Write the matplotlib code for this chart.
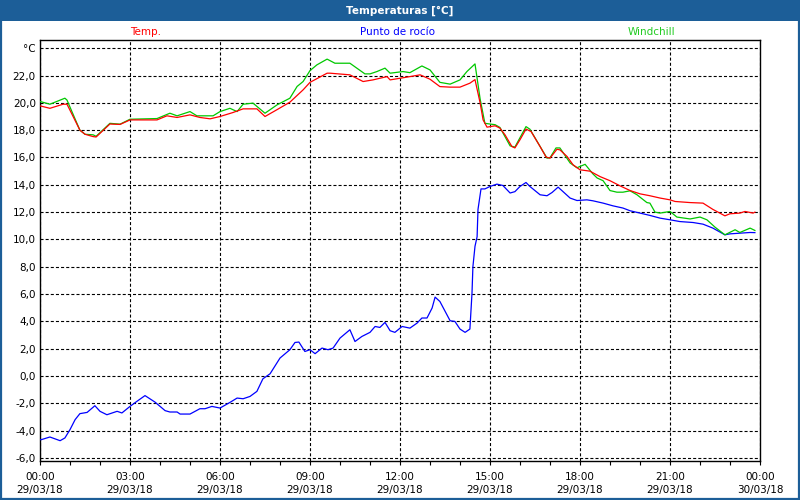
import matplotlib
matplotlib.use("Agg")
import matplotlib.pyplot as plt
from matplotlib.patches import Rectangle

# hours after 29/03/18 00:00
temp_h = [0.0, 0.33, 0.77, 0.9, 1.33, 1.5, 1.77, 1.87, 2.33, 2.67, 3.0, 3.9, 4.23, 4.57,
          5.0, 5.33, 5.67, 6.0, 6.43, 6.77, 7.23, 7.5, 7.9, 8.33, 8.77, 9.0, 9.57, 9.67,
          10.33, 10.77, 11.1, 11.33, 11.57, 11.67, 12.0, 12.33, 12.67, 13.0, 13.33, 13.67,
          14.0, 14.33, 14.5, 14.67, 14.77, 14.9, 15.17, 15.33, 15.5, 15.73, 15.83, 16.0,
          16.2, 16.37, 16.67, 16.87, 17.0, 17.23, 17.33, 17.57, 17.77, 18.0, 18.33, 18.67,
          19.0, 19.33, 19.67, 20.0, 20.33, 20.67, 21.0, 21.17, 21.67, 22.1, 22.43, 22.83,
          23.0, 23.33, 23.5, 23.77, 23.83]
temp = [19.78, 19.6, 19.9, 19.9, 18.0, 17.7, 17.53, 17.5, 18.45, 18.42, 18.75, 18.75, 19.05,
        18.93, 19.12, 18.93, 18.83, 19.0, 19.29, 19.56, 19.56, 19.0, 19.5, 20.05, 20.95, 21.5,
        22.17, 22.17, 22.05, 21.56, 21.68, 21.8, 21.92, 21.68, 21.8, 21.92, 22.05, 21.73,
        21.19, 21.15, 21.15, 21.44, 21.7, 20.0, 18.75, 18.22, 18.32, 18.15, 17.66, 16.8, 16.7,
        17.3, 18.08, 17.9, 16.8, 16.03, 15.95, 16.6, 16.56, 16.07, 15.46, 15.1, 15.0, 14.6,
        14.3, 13.93, 13.58, 13.34, 13.2, 13.03, 12.9, 12.78, 12.7, 12.66, 12.2, 11.73, 11.88,
        11.93, 12.05, 11.93, 12.0]

wind_h = [0.0, 0.33, 0.83, 0.9, 1.33, 1.5, 1.77, 1.87, 2.33, 2.67, 3.0, 3.9, 4.33, 4.57,
          5.0, 5.23, 5.77, 6.0, 6.33, 6.57, 6.77, 7.1, 7.5, 7.9, 8.33, 8.57, 8.77, 9.0, 9.23,
          9.57, 9.83, 10.33, 10.83, 11.0, 11.23, 11.5, 11.67, 12.1, 12.33, 12.73, 13.0, 13.33,
          13.67, 14.0, 14.23, 14.5, 14.67, 14.83, 15.17, 15.33, 15.67, 15.83, 16.2, 16.33,
          16.9, 17.0, 17.2, 17.33, 17.67, 17.9, 18.17, 18.43, 18.57, 18.77, 19.0, 19.23, 19.43,
          19.67, 19.9, 20.23, 20.33, 20.5, 20.67, 21.0, 21.23, 21.67, 22.0, 22.23, 22.5, 22.83,
          23.17, 23.33, 23.67, 23.83]
wind = [20.1, 19.9, 20.34, 20.2, 18.0, 17.7, 17.66, 17.55, 18.5, 18.44, 18.8, 18.85, 19.24,
        19.05, 19.36, 19.05, 19.05, 19.36, 19.6, 19.36, 19.9, 19.98, 19.24, 19.85, 20.34,
        21.2, 21.56, 22.36, 22.78, 23.2, 22.9, 22.9, 22.12, 22.12, 22.29, 22.54, 22.17, 22.29,
        22.21, 22.7, 22.41, 21.5, 21.37, 21.68, 22.29, 22.85, 20.3, 18.5, 18.4, 18.2, 16.85,
        16.76, 18.26, 18.07, 15.95, 15.98, 16.7, 16.7, 15.6, 15.25, 15.5, 14.8, 14.5, 14.3,
        13.58, 13.46, 13.46, 13.56, 13.27, 12.7, 12.66, 12.0, 11.93, 12.05, 11.64, 11.5,
        11.64, 11.44, 10.9, 10.34, 10.71, 10.51, 10.83, 10.66]

dew_h = [0.0, 0.05, 0.33, 0.67, 0.83, 1.0, 1.17, 1.33, 1.57, 1.83, 2.0, 2.23, 2.57, 2.73,
         3.0, 3.23, 3.5, 3.83, 4.17, 4.33, 4.57, 4.67, 5.0, 5.33, 5.5, 5.73, 6.0, 6.33, 6.57,
         6.77, 7.0, 7.23, 7.43, 7.67, 8.0, 8.33, 8.5, 8.63, 8.83, 9.0, 9.17, 9.4, 9.6, 9.77,
         10.0, 10.33, 10.5, 10.73, 11.0, 11.17, 11.33, 11.5, 11.67, 11.83, 12.07, 12.33,
         12.57, 12.73, 12.9, 13.07, 13.17, 13.33, 13.67, 13.83, 14.0, 14.17, 14.33, 14.4,
         14.43, 14.5, 14.57, 14.6, 14.7, 14.83, 15.0, 15.23, 15.43, 15.67, 15.83, 16.0, 16.2,
         16.33, 16.67, 16.9, 17.07, 17.27, 17.43, 17.67, 17.9, 18.23, 18.43, 18.77, 19.1,
         19.43, 19.67, 20.0, 20.33, 20.67, 21.0, 21.33, 21.77, 22.1, 22.43, 22.83, 23.0,
         23.33, 23.67, 23.83]
dew = [-4.65, -4.65, -4.46, -4.73, -4.53, -3.92, -3.19, -2.75, -2.66, -2.17, -2.58, -2.83,
       -2.58, -2.7, -2.22, -1.85, -1.43, -1.9, -2.53, -2.63, -2.63, -2.78, -2.78, -2.39,
       -2.39, -2.22, -2.34, -1.93, -1.61, -1.66, -1.49, -1.12, -0.2, 0.17, 1.32, 1.93, 2.46,
       2.49, 1.8, 1.93, 1.64, 2.05, 1.93, 2.05, 2.78, 3.39, 2.53, 2.9, 3.2, 3.63, 3.56, 3.93,
       3.32, 3.2, 3.63, 3.51, 3.88, 4.25, 4.25, 4.98, 5.78, 5.46, 4.05, 4.0, 3.44, 3.2, 3.44,
       6.07, 8.0, 9.5, 10.2, 12.2, 13.7, 13.7, 13.88, 14.05, 13.95, 13.4, 13.5, 13.88, 14.17,
       13.88, 13.27, 13.2, 13.44, 13.83, 13.51, 13.03, 12.85, 12.9, 12.83, 12.66, 12.46, 12.3,
       12.1, 11.93, 11.76, 11.56, 11.44, 11.31, 11.24, 11.12, 10.83, 10.34, 10.41, 10.46,
       10.51, 10.5]

tick_hours = [0, 3, 6, 9, 12, 15, 18, 21, 24]
tick_times = ["00:00", "03:00", "06:00", "09:00", "12:00", "15:00", "18:00", "21:00", "00:00"]
tick_dates = ["29/03/18"] * 8 + ["30/03/18"]
y_ticks = list(range(-6, 25, 2))

plt.rcParams['font.family'] = ['DejaVu Sans']
plt.rcParams['lines.scale_dashes'] = False

fig = plt.figure(figsize=(8, 5), dpi=100)
fig.patch.set_facecolor("white")

bar = "#1c5e98"
fig.patches.append(Rectangle((0, 1 - 21 / 500), 1, 21 / 500, transform=fig.transFigure,
                             facecolor=bar, edgecolor="none", zorder=0))
fig.patches.append(Rectangle((0.001, 0.002), 0.998, 0.996, transform=fig.transFigure,
                             facecolor="none", edgecolor=bar, linewidth=1.6, zorder=0))
fig.text(0.5, 1 - 10.5 / 500, "Temperaturas [°C]", color="white", fontsize=7.5,
         fontweight="bold", ha="center", va="center")

fig.text(146 / 800, 1 - 32 / 500, "Temp.", color="#ff0000", fontsize=7.5, ha="center", va="center")
fig.text(398 / 800, 1 - 32 / 500, "Punto de rocío", color="#0000ff", fontsize=7.5,
         ha="center", va="center")
fig.text(651 / 800, 1 - 32 / 500, "Windchill", color="#22cc22", fontsize=7.5,
         ha="center", va="center")

ax = fig.add_axes([40 / 800, 1 - 460.5 / 500, 720 / 800, 420.5 / 500])

ax.plot(dew_h, dew, color="#0000ff", linewidth=0.9, zorder=3)
ax.plot(wind_h, wind, color="#00c800", linewidth=0.9, zorder=3)
ax.plot(temp_h, temp, color="#ff0000", linewidth=0.9, zorder=4)

ax.set_xlim(0, 24)
ax.set_ylim(-6.18, 24.6)

ax.set_xticks(tick_hours)
ax.set_xticklabels([t + "\n" + d for t, d in zip(tick_times, tick_dates)], fontsize=7.5,
                   linespacing=1.45)
ax.set_xticks(range(0, 25), minor=True)
ax.tick_params(axis="x", which="both", length=3, width=0.8, direction="out", pad=5)

ax.set_yticks(y_ticks)
ax.set_yticklabels([("%.1f" % v).replace(".", ",") if v < 24 else "°C" for v in y_ticks],
                   fontsize=7.5)
ax.tick_params(axis="y", length=0, pad=3)

ax.grid(True, which="major", color="black", linestyle=(0, (2.2, 1.5)), linewidth=0.8)
for s in ax.spines.values():
    s.set_linewidth(1.0)
    s.set_color("black")

fig.savefig("out.png", dpi=100)
